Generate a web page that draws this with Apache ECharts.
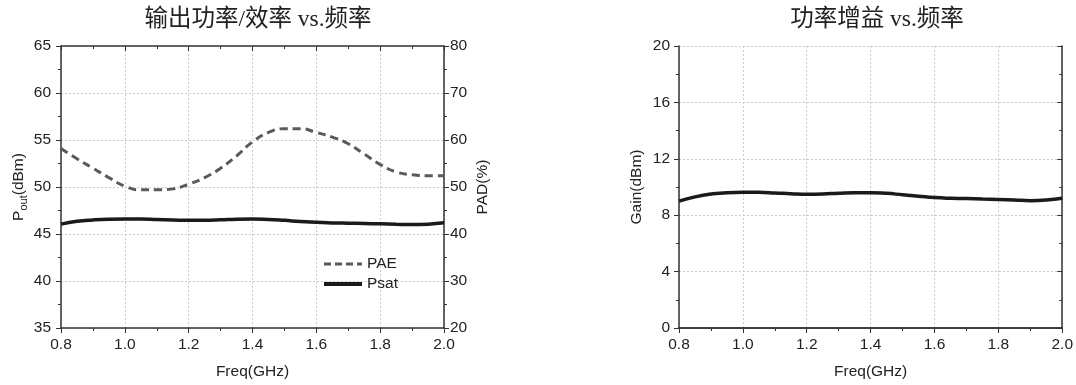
<!DOCTYPE html>
<html>
<head>
<meta charset="utf-8">
<script src="https://cdn.jsdelivr.net/npm/echarts@6/dist/echarts.min.js"></script>
<style>
  html, body { margin: 0; padding: 0; background: #fff; }
  #chart { width: 1076px; height: 385px; }
</style>
</head>
<body>
<div id="chart"></div>
<script>
// frequency points (GHz)
const freq = [0.8, 0.85, 0.9, 0.95, 1.0, 1.05, 1.1, 1.15, 1.2, 1.25, 1.3, 1.35, 1.4,
  1.45, 1.5, 1.55, 1.6, 1.65, 1.7, 1.75, 1.8, 1.85, 1.9, 1.95, 2.0];

// PAE (%), right axis of left chart
const pae = [58.2, 56.0, 54.0, 52.0, 50.2, 49.4, 49.4, 49.6, 50.6, 52.0, 54.0, 56.6, 59.6,
  61.6, 62.4, 62.4, 61.6, 60.6, 59.2, 57.0, 54.8, 53.2, 52.6, 52.4, 52.4];

// Psat (dBm), left axis of left chart
const psat = [46.05, 46.35, 46.5, 46.58, 46.6, 46.6, 46.55, 46.5, 46.45, 46.47, 46.52, 46.58, 46.6,
  46.55, 46.45, 46.33, 46.25, 46.18, 46.15, 46.12, 46.08, 46.03, 46.0, 46.05, 46.2];

// Gain (dBm), right chart
const gain = [9.0, 9.3, 9.5, 9.6, 9.62, 9.62, 9.58, 9.52, 9.48, 9.5, 9.56, 9.6, 9.6,
  9.55, 9.45, 9.35, 9.25, 9.2, 9.18, 9.15, 9.12, 9.08, 9.03, 9.07, 9.2];

const titles = ['输出功率/效率 vs.频率', '功率增益 vs.频率'];

const pair = (ys) => freq.map((f, i) => [f, ys[i]]);

const axisColor = '#333';
const sansFont = 'Liberation Sans, Arial, sans-serif';
const labelStyle = { color: '#222', fontSize: 15.5, fontFamily: sansFont };
const nameStyle = { color: '#222', fontSize: 15.5, fontFamily: sansFont };
const gridLine = { show: true, lineStyle: { color: '#cccccc', type: [2, 2], width: 1 } };
const titleStyle = { fontFamily: 'Liberation Serif, Noto Sans CJK SC, serif', fontSize: 23.5, fontWeight: 'normal', color: '#222' };

const xBottom = (gridIndex) => ({
  type: 'value', gridIndex, position: 'bottom',
  min: 0.8, max: 2.0, interval: 0.2,
  name: 'Freq(GHz)', nameLocation: 'middle', nameGap: 36, nameTextStyle: nameStyle,
  axisLine: { show: true, lineStyle: { color: axisColor, width: 1.5 } },
  axisTick: { show: true, inside: false, length: 5, lineStyle: { color: axisColor } },
  minorTick: { show: true, splitNumber: 2, length: 3, lineStyle: { color: axisColor } },
  axisLabel: Object.assign({ margin: 9, formatter: v => v.toFixed(1) }, labelStyle),
  splitLine: gridLine
});

const xTop = (gridIndex) => ({
  type: 'value', gridIndex, position: 'top',
  min: 0.8, max: 2.0, interval: 0.2,
  axisLine: { show: true, lineStyle: { color: axisColor, width: 1.5 } },
  axisTick: { show: true, inside: true, length: 5, lineStyle: { color: axisColor } },
  minorTick: { show: true, splitNumber: 2, length: 3, lineStyle: { color: axisColor } },
  axisLabel: { show: false },
  splitLine: { show: false }
});

const option = {
  animation: false,
  backgroundColor: '#fff',
  title: [
    { text: titles[0], left: 253, top: 3, textAlign: 'center', textStyle: titleStyle },
    { text: titles[1], left: 872, top: 3, textAlign: 'center', textStyle: titleStyle }
  ],
  legend: {
    data: [
      { name: 'PAE', lineStyle: { width: 3, type: [7, 4], color: '#5a5a5a' } },
      { name: 'Psat', lineStyle: { width: 4, color: '#1a1a1a' } }
    ],
    orient: 'vertical',
    left: 322, top: 256, padding: 0,
    itemWidth: 38, itemHeight: 12, itemGap: 4,
    itemStyle: { opacity: 0 },
    textStyle: { color: '#222', fontSize: 15.5, fontFamily: sansFont }
  },
  grid: [
    { left: 61, right: 632, top: 46, bottom: 57 },
    { left: 679, right: 13, top: 46, bottom: 57 }
  ],
  xAxis: [xBottom(0), xTop(0), xBottom(1), xTop(1)],
  yAxis: [
    {
      type: 'value', gridIndex: 0, position: 'left',
      min: 35, max: 65, interval: 5,
      name: '{a|P}{s|out}{a|(dBm)}', nameLocation: 'middle', nameGap: 32,
      nameTextStyle: {
        rich: {
          a: { fontSize: 15.5, fontFamily: sansFont, color: '#222', lineHeight: 20 },
          s: { fontSize: 11, fontFamily: sansFont, color: '#222', lineHeight: 12, verticalAlign: 'bottom' }
        }
      },
      axisLine: { show: true, lineStyle: { color: axisColor, width: 1.5 } },
      axisTick: { show: true, inside: false, length: 5, lineStyle: { color: axisColor } },
      minorTick: { show: true, splitNumber: 2, length: 3, lineStyle: { color: axisColor } },
      axisLabel: Object.assign({ margin: 10 }, labelStyle),
      splitLine: gridLine
    },
    {
      type: 'value', gridIndex: 0, position: 'right',
      min: 20, max: 80, interval: 10,
      name: 'PAD(%)', nameLocation: 'middle', nameGap: 31, nameRotate: 90, nameTextStyle: nameStyle,
      axisLine: { show: true, lineStyle: { color: axisColor, width: 1.5 } },
      axisTick: { show: true, inside: false, length: 5, lineStyle: { color: axisColor } },
      minorTick: { show: true, splitNumber: 2, length: 3, lineStyle: { color: axisColor } },
      axisLabel: Object.assign({ margin: 6 }, labelStyle),
      splitLine: { show: false }
    },
    {
      type: 'value', gridIndex: 1, position: 'left',
      min: 0, max: 20, interval: 4,
      name: 'Gain(dBm)', nameLocation: 'middle', nameGap: 34, nameTextStyle: nameStyle,
      axisLine: { show: true, lineStyle: { color: axisColor, width: 1.5 } },
      axisTick: { show: true, inside: false, length: 5, lineStyle: { color: axisColor } },
      minorTick: { show: true, splitNumber: 2, length: 3, lineStyle: { color: axisColor } },
      axisLabel: Object.assign({ margin: 9 }, labelStyle),
      splitLine: gridLine
    },
    {
      type: 'value', gridIndex: 1, position: 'right',
      min: 0, max: 20, interval: 4,
      axisLine: { show: true, lineStyle: { color: axisColor, width: 1.5 } },
      axisTick: { show: true, inside: true, length: 5, lineStyle: { color: axisColor } },
      minorTick: { show: true, splitNumber: 2, length: 3, lineStyle: { color: axisColor } },
      axisLabel: { show: false },
      splitLine: { show: false }
    }
  ],
  series: [
    {
      name: 'PAE', type: 'line', xAxisIndex: 0, yAxisIndex: 1,
      data: pair(pae), smooth: 0.5, symbol: 'none',
      lineStyle: { color: '#5a5a5a', width: 3, type: [8, 5] },
      itemStyle: { color: '#5a5a5a' }
    },
    {
      name: 'Psat', type: 'line', xAxisIndex: 0, yAxisIndex: 0,
      data: pair(psat), smooth: 0.5, symbol: 'none',
      lineStyle: { color: '#1a1a1a', width: 3.5 },
      itemStyle: { color: '#1a1a1a' }
    },
    {
      name: 'Gain', type: 'line', xAxisIndex: 2, yAxisIndex: 2,
      data: pair(gain), smooth: 0.5, symbol: 'none',
      lineStyle: { color: '#1a1a1a', width: 3.5 },
      itemStyle: { color: '#1a1a1a' }
    }
  ]
};

const chart = echarts.init(document.getElementById('chart'), null, { renderer: 'canvas' });
chart.setOption(option);
window.addEventListener('resize', () => chart.resize());
</script>
</body>
</html>
